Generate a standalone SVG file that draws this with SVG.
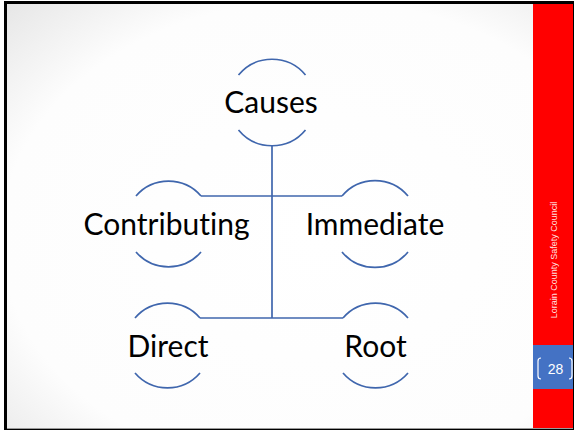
<svg xmlns="http://www.w3.org/2000/svg" width="574" height="430" viewBox="0 0 574 430">
  <defs>
    <radialGradient id="slideBg" cx="0.55" cy="0.55" r="0.8">
      <stop offset="0" stop-color="#ffffff"/>
      <stop offset="0.7" stop-color="#fdfdfd"/>
      <stop offset="1" stop-color="#e4e4e4"/>
    </radialGradient>
    <style>
      .arc { fill: none; stroke: #3f66ad; stroke-width: 1.7; }
      .link { fill: none; stroke: #3f66ad; stroke-width: 1.7; }
      .label { font-family: Lato, "Open Sans", "Liberation Sans", sans-serif; font-size: 30px; fill: #000000; text-anchor: middle; font-variant-ligatures: none; }
      .side { font-family: "Liberation Sans", Arial, sans-serif; font-size: 9px; fill: #ffffff; fill-opacity: 0.9; text-anchor: middle; }
      .pagenum { font-family: "Liberation Sans", Arial, sans-serif; font-size: 14px; fill: #ffffff; text-anchor: middle; }
      .bracket { fill: none; stroke: #ffffff; stroke-width: 1.2; }
    </style>
  </defs>

  <!-- slide frame -->
  <rect x="0" y="0" width="574" height="430" fill="#ffffff"/>
  <rect x="4" y="1" width="570" height="429" fill="#000000"/>
  <rect x="7" y="4" width="566" height="424" fill="url(#slideBg)"/>
  <rect x="7" y="428" width="566" height="1" fill="#9a9a9a"/>

  <!-- right sidebar -->
  <g id="sidebar">
    <rect x="533" y="4" width="40" height="424" fill="#ff0000"/>
    <text class="side" transform="translate(557,260) rotate(-90)">Lorain County Safety Council</text>
    <rect x="533" y="345" width="40" height="44" fill="#4472c4"/>
    <path class="bracket" d="M541,358 Q538,358 538,361 L538,376 Q538,379 541,379"/>
    <path class="bracket" d="M569,358 Q572,358 572,361 L572,376 Q572,379 569,379"/>
    <text class="pagenum" x="555.5" y="374">28</text>
  </g>

  <!-- connectors -->
  <g id="connectors">
    <line class="link" x1="272" y1="146" x2="272" y2="318"/>
    <line class="link" x1="201" y1="196" x2="342" y2="196"/>
    <line class="link" x1="200" y1="318" x2="343" y2="318"/>
  </g>

  <!-- nodes: open circles with the label between the arcs -->
  <g id="causes">
    <path class="arc" d="M238.5,75 A43.5,43.5 0 0 1 305.5,75"/>
    <path class="arc" d="M238.5,130 A43.5,43.5 0 0 0 305.5,130"/>
    <text class="label" x="271" y="113">Causes</text>
  </g>
  <g id="contributing">
    <path class="arc" d="M136,196 A43,43 0 0 1 201,196"/>
    <path class="arc" d="M136,252 A43,43 0 0 0 201,252"/>
    <text class="label" x="166.5" y="235">Contributing</text>
  </g>
  <g id="immediate">
    <path class="arc" d="M342,196 A43,43 0 0 1 408,196"/>
    <path class="arc" d="M342,252 A43,43 0 0 0 408,252"/>
    <text class="label" x="375" y="235">Immediate</text>
  </g>
  <g id="direct">
    <path class="arc" d="M135,318 A43,43 0 0 1 200,318"/>
    <path class="arc" d="M135,373 A43,43 0 0 0 200,373"/>
    <text class="label" x="168" y="357">Direct</text>
  </g>
  <g id="root">
    <path class="arc" d="M343,318 A43,43 0 0 1 408,318"/>
    <path class="arc" d="M343,373 A43,43 0 0 0 408,373"/>
    <text class="label" x="375.5" y="357">Root</text>
  </g>
</svg>
